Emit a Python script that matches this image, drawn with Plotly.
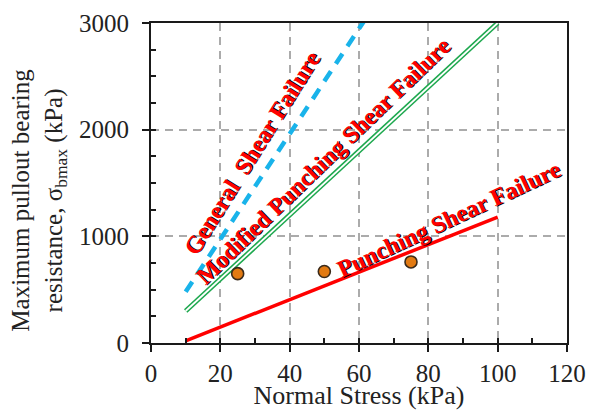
import plotly.graph_objects as go

# ---- data ----
general_x = [10, 100]
general_y = [480, 4920]
modified_x = [10, 100]
modified_y = [300, 3000]
punching_x = [10, 100]
punching_y = [20, 1180]
test_x = [25, 50, 75]
test_y = [650, 670, 760]

x_range = [0, 120]
y_range = [0, 3000]

SERIF = "Liberation Serif, Times New Roman, serif"
AX = "#1a1a1a"

fig = go.Figure()

# General shear failure (blue dashed)
fig.add_trace(go.Scatter(x=general_x, y=general_y, mode="lines",
                         line=dict(color="#19B3EA", width=4.5, dash="12px,9px"),
                         showlegend=False, hoverinfo="skip"))
# Modified punching shear failure (green double line)
fig.add_trace(go.Scatter(x=modified_x, y=modified_y, mode="lines",
                         line=dict(color="#1DA84E", width=5),
                         showlegend=False, hoverinfo="skip"))
fig.add_trace(go.Scatter(x=modified_x, y=modified_y, mode="lines",
                         line=dict(color="white", width=1.8),
                         showlegend=False, hoverinfo="skip"))
# Test results (orange circles)
fig.add_trace(go.Scatter(x=test_x, y=test_y, mode="markers",
                         marker=dict(color="#E27A12", size=12,
                                     line=dict(color="#3a2a1a", width=1.6)),
                         xaxis="x2", yaxis="y2",
                         showlegend=False, hoverinfo="skip"))
# Punching shear failure (red)
fig.add_trace(go.Scatter(x=punching_x, y=punching_y, mode="lines",
                         line=dict(color="#FF0000", width=3.5),
                         xaxis="x3", yaxis="y3",
                         showlegend=False, hoverinfo="skip"))

ann_font = dict(family=SERIF, size=24, color="#FF0000", weight="bold",
                shadow="1px 1px 0px #000")
labels = [
    ("General  Shear Failure", 29.2, 1779, -58),
    ("Modified Punching Shear Failure", 49.7, 1704, -44),
    ("Punching Shear Failure", 86.0, 1166, -25),
]
for txt, ax_, ay_, ang in labels:
    fig.add_annotation(x=ax_, y=ay_, text=txt, showarrow=False,
                       textangle=ang, font=ann_font,
                       xanchor="center", yanchor="middle")

# y-axis title as a rotated two-line annotation
fig.add_annotation(xref="paper", yref="paper", x=-0.269, y=0.445,
                   text="Maximum pullout bearing<br>resistance, σ<sub>bmax</sub> (kPa)",
                   showarrow=False, textangle=-90,
                   font=dict(family=SERIF, size=25, color="#222"),
                   xanchor="center", yanchor="middle")

common_overlay = dict(tickwidth=2, tickcolor=AX, showticklabels=False,
                      showgrid=False, showline=False, zeroline=False,
                      automargin=False)

fig.update_layout(
    width=589, height=410,
    margin=dict(l=151, r=22, t=23, b=67),
    paper_bgcolor="white", plot_bgcolor="white",
    template="none",
    font=dict(family=SERIF, size=25, color="#222"),
    xaxis=dict(range=x_range, dtick=20, tick0=0,
               showline=True, linecolor=AX, linewidth=2, mirror=True,
               ticks="",
               showgrid=True, gridcolor="#ABABAB", gridwidth=2, griddash="8px,6px",
               zeroline=False, automargin=False,
               ticklabelstandoff=7,
               tickfont=dict(family=SERIF, size=25, color="#222"),
               title=dict(text="Normal Stress (kPa)", standoff=8,
                          font=dict(family=SERIF, size=26, color="#222"))),
    yaxis=dict(range=y_range, dtick=1000, tick0=0,
               showline=True, linecolor=AX, linewidth=2, mirror=True,
               ticks="",
               showgrid=True, gridcolor="#ABABAB", gridwidth=2, griddash="8px,6px",
               zeroline=False, automargin=False,
               ticklabelstandoff=15,
               tickfont=dict(family=SERIF, size=25, color="#222")),
    # inside ticks (major + minor)
    xaxis2=dict(range=x_range, overlaying="x", anchor="y2", dtick=10, tick0=0,
                ticks="inside", ticklen=5, **common_overlay),
    yaxis2=dict(range=y_range, overlaying="y", anchor="x2", dtick=250, tick0=0,
                ticks="inside", ticklen=5, **common_overlay),
    # outside major ticks
    xaxis3=dict(range=x_range, overlaying="x", anchor="y3", dtick=20, tick0=0,
                ticks="outside", ticklen=8, **common_overlay),
    yaxis3=dict(range=y_range, overlaying="y", anchor="x3", dtick=1000, tick0=0,
                ticks="outside", ticklen=8, **common_overlay),
)

fig.write_html("out.html")
